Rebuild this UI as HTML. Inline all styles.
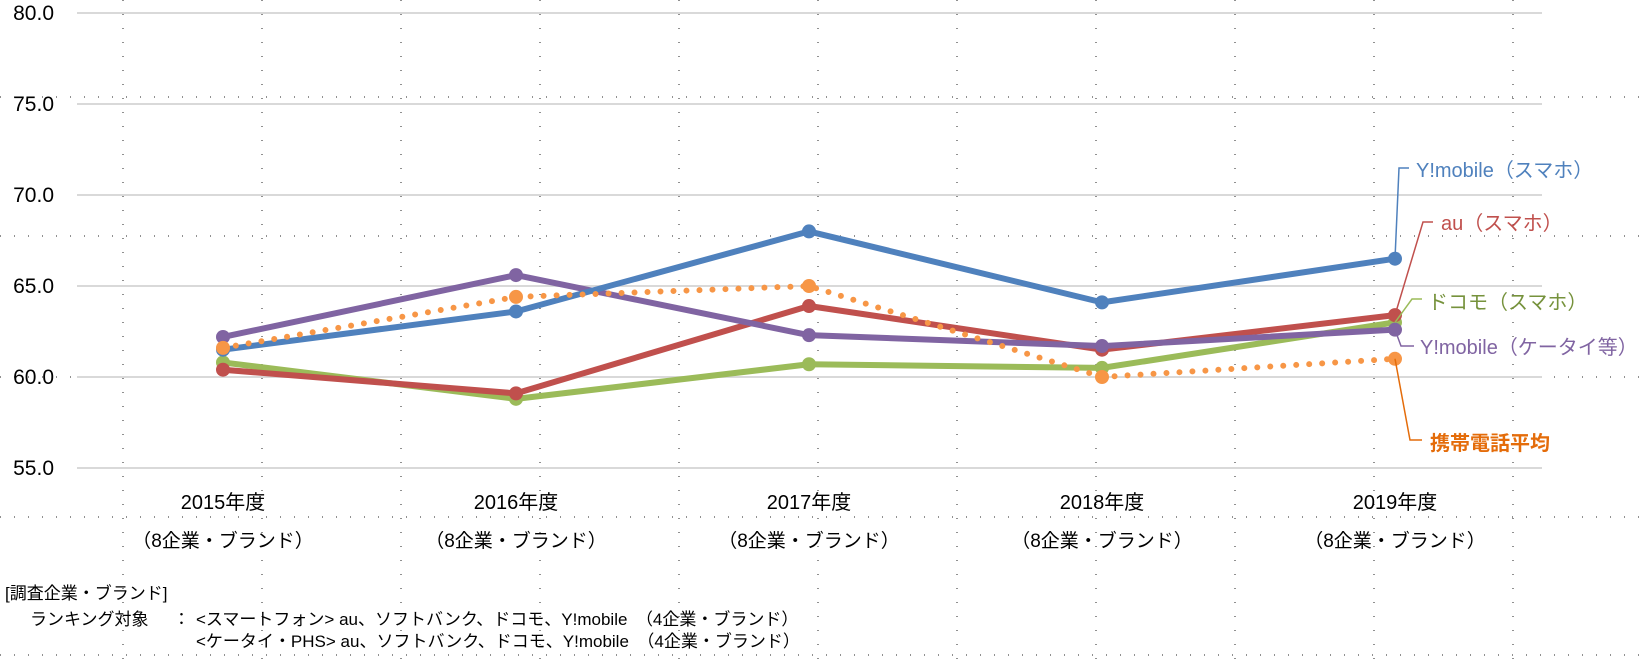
<!DOCTYPE html>
<html><head><meta charset="utf-8">
<style>
body{margin:0;background:#fff;}
svg{display:block;font-family:"Liberation Sans","Noto Sans CJK JP",sans-serif;}
</style></head>
<body>
<svg id="chart" width="1649" height="666" viewBox="0 0 1649 666">
<g id="bg"></g>
<g id="grid"></g>
<g id="yticks"></g>
<g id="xticks"></g>
<g id="series"></g>
<g id="labels"></g>
<g font-size="17" fill="#000">
<text x="5" y="599">[調査企業・ブランド]</text>
<text x="30" y="625">ランキング対象</text>
<text x="173" y="625">：</text>
<text x="196" y="625">&lt;スマートフォン&gt;  au、ソフトバンク、ドコモ、Y!mobile　（4企業・ブランド）</text>
<text x="196" y="647">&lt;ケータイ・PHS&gt;  au、ソフトバンク、ドコモ、Y!mobile　（4企業・ブランド）</text>
</g>
</svg>
<script>
const categories = ["2015年度","2016年度","2017年度","2018年度","2019年度"];
const subLabel = "（8企業・ブランド）";
const yTicks = [55,60,65,70,75,80];
const ymobileSmart = [61.5,63.6,68.0,64.1,66.5];
const auSmart = [60.4,59.1,63.9,61.5,63.4];
const docomoSmart = [60.8,58.8,60.7,60.5,63.0];
const ymobileKeitai = [62.2,65.6,62.3,61.7,62.6];
const average = [61.6,64.4,65.0,60.0,61.0];
const seriesNames = ["Y!mobile（スマホ）","au（スマホ）","ドコモ（スマホ）","Y!mobile（ケータイ等）","携帯電話平均"];

const NS="http://www.w3.org/2000/svg";
function mk(tag,attrs,parent){const e=document.createElementNS(NS,tag);for(const k in attrs)e.setAttribute(k,attrs[k]);parent.appendChild(e);return e;}
const yMin=55,yMax=80,yTop=13,yBot=468;
function y(v){return yBot-(v-yMin)/(yMax-yMin)*(yBot-yTop);}
const x0=223,dx=293;
function x(i){return x0+i*dx;}

const bg=document.getElementById('bg');
for(let i=0;i<11;i++){const vx=123+i*139;
 const l=mk('line',{x1:vx,y1:0,x2:vx,y2:666,stroke:'#222','stroke-width':1,'stroke-dasharray':'1 13'},bg);
 
 }
[97,236,377,517,655].forEach(hy=>{
 const l=mk('line',{x1:0,y1:hy,x2:1649,y2:hy,stroke:'#222','stroke-width':1,'stroke-dasharray':'1 13'},bg);
 
 });

const grid=document.getElementById('grid'),yt=document.getElementById('yticks');
yTicks.forEach(t=>{
 const l=mk('line',{x1:77,y1:y(t),x2:1542,y2:y(t),stroke:'#d9d9d9','stroke-width':2},grid);
 
 
 const tx=mk('text',{x:54,y:y(t)+7,'text-anchor':'end','font-size':21,fill:'#000'},yt);
 tx.textContent=t.toFixed(1);
 
 
});
const xt=document.getElementById('xticks');
categories.forEach((c,i)=>{
 const a=mk('text',{x:x(i),y:509,'text-anchor':'middle','font-size':20,fill:'#000'},xt);
 a.textContent=c;
 
 
 const b=mk('text',{x:x(i),y:547,'text-anchor':'middle','font-size':19,fill:'#000'},xt);
 b.textContent=subLabel;
 
 
});

const sg=document.getElementById('series');
const defs=[
 {d:docomoSmart,c:'#9BBB59',dot:false},
 {d:auSmart,c:'#C0504D',dot:false},
 {d:ymobileKeitai,c:'#8064A2',dot:false},
 {d:ymobileSmart,c:'#4F81BD',dot:false},
 {d:average,c:'#F79646',dot:true}
];
defs.forEach(s=>{
 const g=mk('g',{},sg);
 
 
 const pts=s.d.map((v,i)=>x(i)+','+y(v)).join(' ');
 const attrs={points:pts,fill:'none',stroke:s.c,'stroke-width':6,'stroke-linejoin':'round','stroke-linecap':'round'};
 if(s.dot){attrs['stroke-dasharray']='0 13';}
 mk('polyline',attrs,g);
 s.d.forEach((v,i)=>{
  const p=mk('circle',{cx:x(i),cy:y(v),r:7,fill:s.c},g);
  
  
 });
});

const lg=document.getElementById('labels');
const lab=[
 {n:0,d:ymobileSmart,c:'#4F81BD',tx:1416,ty:170,path:(px,py)=>`M${px},${py} L1399,168 L1409,168`,fw:'normal'},
 {n:1,d:auSmart,c:'#C0504D',tx:1441,ty:223,path:(px,py)=>`M${px},${py} L1423,222 L1433,222`,fw:'normal'},
 {n:2,d:docomoSmart,c:'#76923C',lc:'#9BBB59',tx:1428,ty:302,path:(px,py)=>`M${px},${py} L1412,299 L1422,299`,fw:'normal'},
 {n:3,d:ymobileKeitai,c:'#8064A2',tx:1420,ty:347,path:(px,py)=>`M${px},${py} L1401,346 L1414,346`,fw:'normal'},
 {n:4,d:average,c:'#E46C0A',tx:1430,ty:443,path:(px,py)=>`M${px},${py} L1410,440 L1422,440`,fw:'bold'}
];
lab.forEach(L=>{
 const px=x(4),py=y(L.d[4]);
 const p=mk('path',{d:L.path(px,py),fill:'none',stroke:L.lc||L.c,'stroke-width':1.5},lg);
 
 
 const t=mk('text',{x:L.tx,y:L.ty+7,'font-size':20,fill:L.c,'font-weight':L.fw},lg);
 t.textContent=seriesNames[L.n];
 
 
});
</script>
</body></html>
